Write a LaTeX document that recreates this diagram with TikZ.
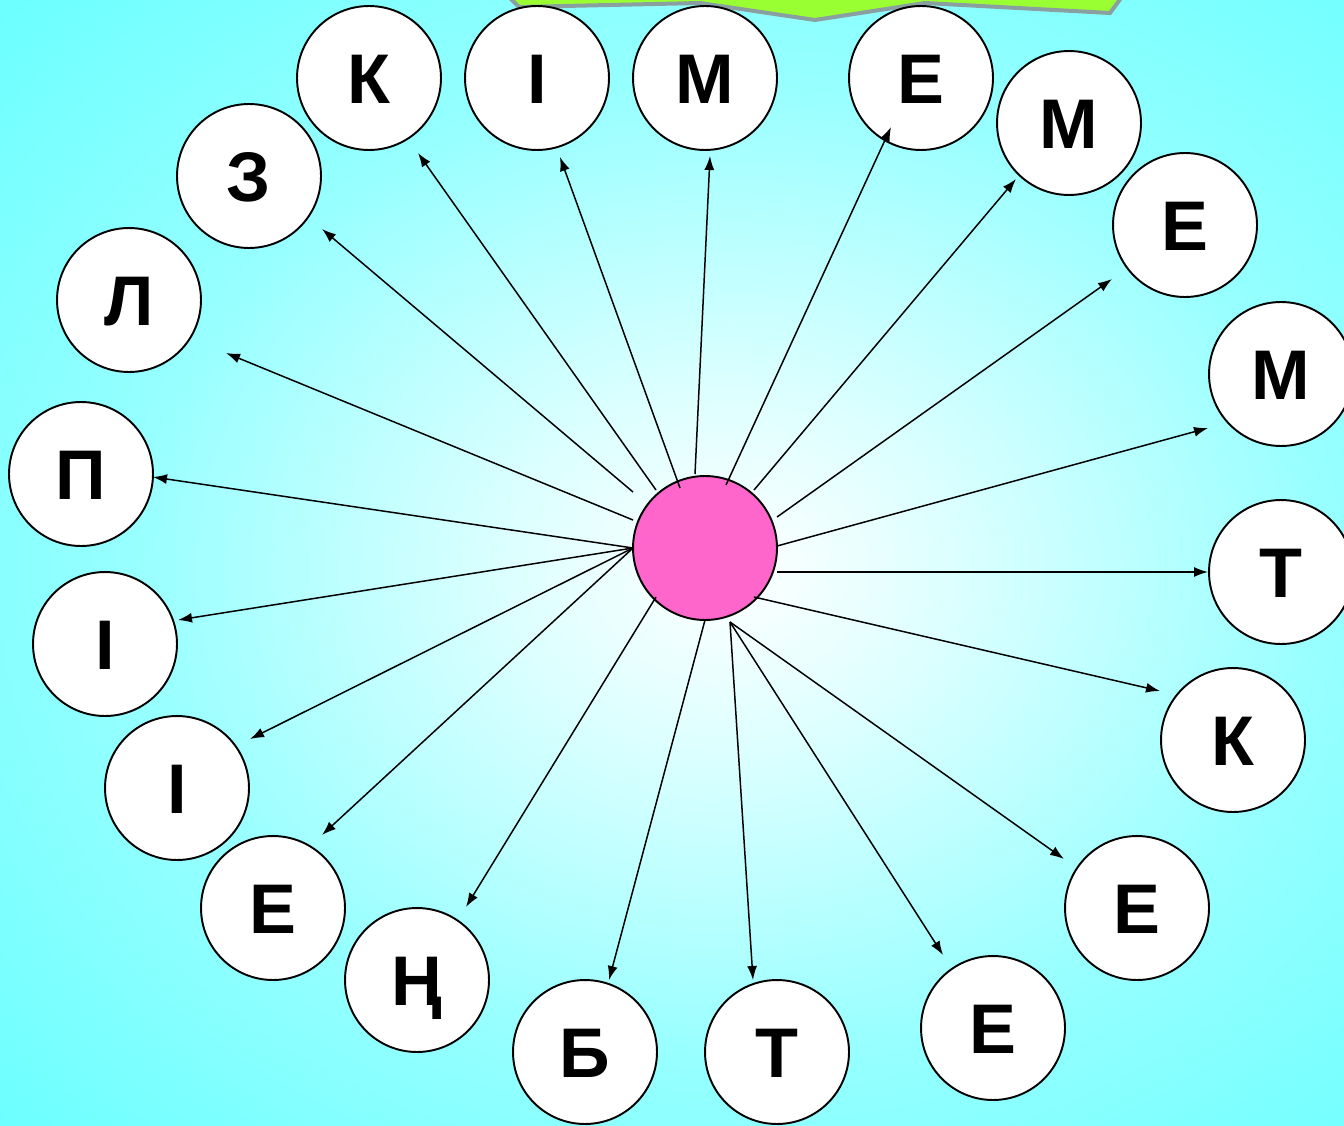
\documentclass[tikz,border=0pt]{standalone}
\usepackage{fontspec}
\setmainfont{Liberation Sans}
\usetikzlibrary{arrows.meta}
\definecolor{bgcyan}{RGB}{64,255,255}
\definecolor{bga}{RGB}{222,255,255}
\definecolor{bgb}{RGB}{150,255,255}
\definecolor{bgc}{RGB}{85,255,255}
\definecolor{pinkc}{RGB}{255,102,204}
\definecolor{greenc}{RGB}{153,255,51}
\definecolor{grayc}{RGB}{138,160,160}
\pgfdeclareradialshading{bgshade}{\pgfpoint{0bp}{0bp}}{color(0bp)=(white); color(7bp)=(bga); color(20bp)=(bgb); color(40bp)=(bgc); color(54bp)=(bgcyan); color(80bp)=(bgcyan)}
\tikzset{
  letter/.style={circle, draw=black, line width=1.1pt, fill=white, minimum size=2.88cm, inner sep=0pt,
    font=\fontsize{40}{40}\selectfont\bfseries, text height=28.6pt, text depth=0pt},
  hub/.style={circle, draw=black, line width=1.1pt, fill=pinkc, minimum size=2.88cm, inner sep=0pt},
  arr/.style={line width=0.85pt, -{Latex[length=0.28cm,width=0.2cm]}}
}
\begin{document}
\begin{tikzpicture}[x=0.02cm,y=-0.02cm]
\useasboundingbox (0,0) rectangle (1344,1125);
\begin{scope}
\clip (0,0) rectangle (1344,1125);
\fill[bgcyan] (0,0) rectangle (1344,1125);
\shade[shading=bgshade] (-30,-50) rectangle (1490,1190);
\draw[draw=grayc, fill=greenc, line width=0.08cm, line join=miter]
  (506,-6) -- (519,7) -- (700,3) -- (815,20) -- (925,3) -- (1110,13) -- (1124,-6) -- cycle;
\end{scope}
\node[hub] (c) at (705,548) {};
\foreach \n/\l/\x/\y/\sx/\sy/\ex/\ey in {
k1/К/369/78/656/490/418/153,
i1/І/537/78/680/488/560/157,
m1/М/705/78/695/474/710/156,
e1/Е/921/78/726/485/891/127,
m2/М/1069/123/754/490/1016/179,
e2/Е/1185/225/777/517/1112/279,
m3/М/1281/374/777/546/1208/428,
t1/Т/1281/572/777/572/1208/572,
k2/К/1233/740/754/597/1160/691,
e3/Е/1137/908/730/622/1064/859,
e4/Е/993/1028/730/622/943/955,
t2/Т/777/1052/730/622/753/980,
b1/Б/585/1052/705/620/609/980,
n1/Ң/417/980/656/597/466/907,
e5/Е/273/908/633/548/322/835,
i2/І/177/788/633/548/250/739,
i3/І/105/644/633/548/178/620,
p1/П/81/474/633/548/153/477,
l1/Л/129/300/633/520/226/353,
z1/З/249/176/633/492/322/229}{
  \node[letter] (\n) at (\x,\y) {\l};
  \coordinate (s\n) at (\sx,\sy);
  \coordinate (e\n) at (\ex,\ey);
  \draw[arr] (s\n) -- (e\n);
}
\end{tikzpicture}
\end{document}
